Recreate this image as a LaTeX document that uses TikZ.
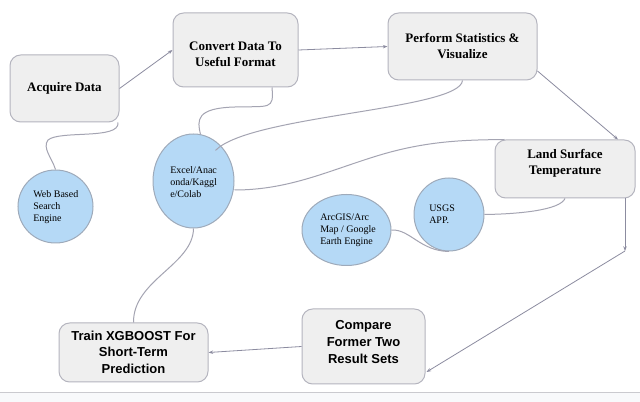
\documentclass[tikz,border=0pt]{standalone}
\usepackage{fontspec}
\setmainfont{Liberation Serif}
\newfontfamily\arialfont{Liberation Sans}
\usetikzlibrary{shapes.geometric,arrows.meta,calc}
\definecolor{boxfill}{HTML}{EFEFEF}
\definecolor{boxdraw}{HTML}{B4B4BE}
\definecolor{circfill}{HTML}{B5D9F6}
\definecolor{circdraw}{HTML}{9EAABA}
\definecolor{linecol}{HTML}{A4A4B2}
\definecolor{arrcol}{HTML}{8C8CA0}
\definecolor{barcol}{HTML}{F8F9FB}
\definecolor{barline}{HTML}{CACACF}
\tikzset{
  box/.style={draw=boxdraw, fill=boxfill, line width=0.75pt, rounded corners=8pt, inner sep=0pt},
  circ/.style={ellipse, draw=circdraw, fill=circfill, line width=0.75pt, inner sep=0pt},
  serifbox/.style={font=\fontsize{9.75pt}{12pt}\selectfont\bfseries, align=center, inner sep=0pt},
  sansbox/.style={font=\arialfont\fontsize{9.75pt}{12.4pt}\selectfont\bfseries, align=center, inner sep=0pt},
  ctext/.style={font=\fontsize{7.5pt}{9pt}\selectfont, align=left, anchor=west, inner sep=0pt},
  link/.style={draw=linecol, line width=0.75pt},
  arr/.style={draw=arrcol, line width=0.6pt, -{Stealth[length=3.5pt,width=2.6pt]}},
}
\begin{document}
\begin{tikzpicture}[x=0.75pt,y=-0.75pt]
\useasboundingbox (0,0) rectangle (640,402);
\fill[white] (0,0) rectangle (640,402);
\fill[barcol] (0,393) rectangle (640,402);
\draw[barline, line width=0.75pt] (0,393) -- (640,393);

% boxes
\node[box, minimum width=81.75pt, minimum height=50.25pt] (acq) at (64.5,88.5) {};
\node[serifbox] (acqt) at (64.5,88.5) {Acquire Data};
\node[box, minimum width=93.75pt, minimum height=55.5pt] (conv) at (235.5,50) {};
\node[serifbox] (convt) at (235.5,54) {Convert Data To\\Useful Format};
\node[box, minimum width=111.75pt, minimum height=50.25pt] (perf) at (462.5,46.5) {};
\node[serifbox] (perft) at (462.5,46) {Perform Statistics \&\\Visualize};
\node[box, minimum width=105pt, minimum height=43.5pt] (lst) at (565,169) {};
\node[serifbox] (lstt) at (565,163) {Land Surface\\Temperature};
\node[box, minimum width=111.75pt, minimum height=44.25pt] (train) at (133.5,352.5) {};
\node[sansbox] (traint) at (133.5,352) {Train XGBOOST For\\Short-Term\\Prediction};
\node[box, minimum width=92.25pt, minimum height=56.25pt] (comp) at (363.5,346.5) {};
\node[sansbox] (compt) at (363.5,342) {Compare\\Former Two\\Result Sets};

% circles
\node[circ, minimum width=56.25pt, minimum height=54.75pt] (web) at (55.5,206.5) {};
\node[ctext] (webt) at (33,207) {Web Based\\Search\\Engine};
\node[circ, minimum width=60.75pt, minimum height=70.5pt] (excel) at (193.5,181) {};
\node[ctext] (excelt) at (170,182) {Excel/Anac\\onda/Kaggl\\e/Colab};
\node[circ, minimum width=66.75pt, minimum height=53.25pt] (arc) at (346.5,230) {};
\node[ctext] (arct) at (320,230) {ArcGIS/Arc\\Map / Google\\Earth Engine};
\node[circ, minimum width=52.5pt, minimum height=54.75pt] (usgs) at (449,214.5) {};
\node[ctext] (usgst) at (429,214.5) {USGS\\APP.};

% undirected links
\draw[link] ($(acq.south)+(53.5,0)$) .. controls (120,140) and (60,130) .. (48,140) .. controls (42,148) and (52,158) .. (web.north);
\draw[link] ($(conv.south)+(36.5,0)$) .. controls (274,110) and (270,106) .. (235,107) .. controls (196,108) and (197,120) .. ($(excel.north)+(7,1)$);
\draw[link] (perf.south) .. controls (460,110) and (250,115) .. ($(excel.north east)+(-7,3)$);
\draw[link] ($(excel.east)+(0,9)$) .. controls (290,190) and (330,170) .. (380,155) .. controls (430,140) and (470,140) .. ($(lst.north west)+(10,0)$);
\draw[link] (lst.south) .. controls (560,210) and (520,214) .. (usgs.east);
\draw[link] (arc.east) .. controls (410,229) and (420,251) .. (usgs.south);
\draw[link] (excel.south) .. controls (193,265) and (133,280) .. (train.north);

% arrows
\coordinate (bend) at (625,251);
\draw[arr] (acq.east) -- (conv.west);
\draw[arr] (conv.east) -- (perf.west);
\draw[arr] ($(perf.east)+(0,24.5)$) -- ($(lst.north)+(53,0)$);
\draw[arr] ($(lst.south)+(60,0)$) -- (bend);
\draw[arr] (bend) -- ($(comp.east)+(1,25.5)$);
\draw[arr] (comp.west) -- (train.east);
\end{tikzpicture}
\end{document}
